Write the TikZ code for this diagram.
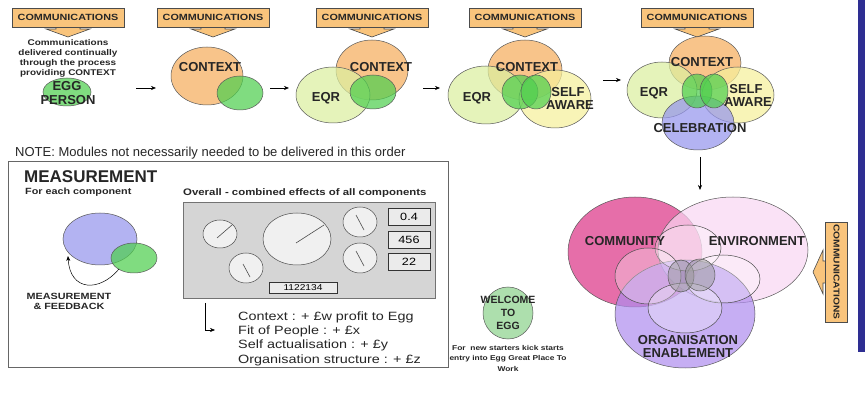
\documentclass[tikz,border=0pt]{standalone}
\usepackage{fontspec}
\setmainfont{Liberation Sans}
\newfontfamily\wide[FakeStretch=1.2]{Liberation Sans}
\usetikzlibrary{shapes.geometric,arrows.meta}
\definecolor{bannerc}{HTML}{F9C47C}
\definecolor{ctxc}{HTML}{F6AE5E}
\definecolor{greenc}{HTML}{4FCF4F}
\definecolor{eqrc}{HTML}{DCEFA0}
\definecolor{selfc}{HTML}{F6F09C}
\definecolor{celc}{HTML}{9696EE}
\definecolor{commc}{HTML}{E2559A}
\definecolor{envc}{HTML}{F9D6F3}
\definecolor{orgc}{HTML}{AE8CEE}
\definecolor{panelc}{HTML}{D5D5D5}
\definecolor{barc}{HTML}{2E2E92}
\definecolor{welc}{HTML}{8ED48E}
\begin{document}
\begin{tikzpicture}[x=1pt,y=-1pt,
  venn/.style={ellipse, draw=black!65, line width=0.5pt, inner sep=0pt, fill opacity=0.72, text opacity=1},
  inner/.style={ellipse, draw=black!70, line width=0.5pt, inner sep=0pt, fill=white, fill opacity=0.3},
  vlbl/.style={inner sep=0pt, text=black!85, font=\bfseries\fontsize{13}{14}\selectfont},
  banner/.style={rectangle, draw=black!70, fill=bannerc, line width=0.6pt, minimum width=112pt, minimum height=19pt, inner sep=0pt, font=\wide\bfseries\fontsize{9}{10}\selectfont, text=black!85},
  bannerhead/.style={draw=black!70, fill=bannerc, line width=0.6pt},
  flow/.style={-{Stealth[length=5pt,width=4pt]}, line width=0.6pt},
  dial/.style={ellipse, draw=black!70, fill=black!6, line width=0.5pt, inner sep=0pt},
  needle/.style={line width=0.6pt, black!70},
  valbox/.style={rectangle, draw=black!80, fill=black!8, line width=0.6pt, minimum width=42pt, minimum height=17pt, inner sep=0pt, font=\wide\fontsize{10.5}{11}\selectfont},
  small/.style={inner sep=0pt, font=\wide\bfseries\fontsize{9}{10}\selectfont, text=black!85},
]
\useasboundingbox (0,0) rectangle (865,395);
\fill[white] (0,0) rectangle (865,395);
\fill[barc] (858,0) rectangle (865,352);

% banners
\foreach \n/\cx in {1/68,2/213,3/372,4/525,5/697}{
  \draw[bannerhead] (\cx-12,27) -- (\cx-12,29) -- (\cx-22,29) -- (\cx,37) -- (\cx+22,29) -- (\cx+12,29) -- (\cx+12,27);
  \node[banner] (b\n) at (\cx,17.5) {COMMUNICATIONS};
}
\draw[bannerhead] (826,261) -- (823,261) -- (823,250) -- (813,272) -- (823,294) -- (823,283) -- (826,283);
\node[banner, rotate=-90, minimum width=100pt, minimum height=22pt, font=\wide\bfseries\fontsize{8.5}{10}\selectfont] (b6) at (836.5,272) {COMMUNICATIONS};

% stage 1
\node[small, align=center, font=\wide\bfseries\fontsize{8.3}{10}\selectfont] (cnote) at (68,58) {Communications\\delivered continually\\through the process\\providing CONTEXT};
\node[venn, fill=greenc, minimum width=48pt, minimum height=28pt] (egg) at (67,92) {};
\node[vlbl] (egg1) at (67,86) {EGG};
\node[vlbl] (egg2) at (68,100) {PERSON};

% arrows between stages
\coordinate (a1s) at (136,88); \coordinate (a1e) at (156,88);
\coordinate (a2s) at (270,88); \coordinate (a2e) at (289,88);
\coordinate (a3s) at (423,88); \coordinate (a3e) at (440,88);
\coordinate (a4s) at (603,80); \coordinate (a4e) at (621,80);
\draw[flow] (a1s) -- (a1e);
\draw[flow] (a2s) -- (a2e);
\draw[flow] (a3s) -- (a3e);
\draw[flow] (a4s) -- (a4e);

% stage 2
\node[venn, fill=ctxc, minimum width=72pt, minimum height=58pt] (ctx2) at (207,76) {};
\node[venn, fill=greenc, minimum width=46pt, minimum height=34pt] (gr2) at (240,93) {};
\node[vlbl] (l2) at (210,67) {CONTEXT};

% stage 3
\node[venn, fill=ctxc, minimum width=72pt, minimum height=60pt] (ctx3) at (372,70) {};
\node[venn, fill=eqrc, minimum width=74pt, minimum height=56pt] (eqr3) at (333,95) {};
\node[venn, fill=greenc, minimum width=46pt, minimum height=34pt] (gr3) at (373,92) {};
\node[vlbl] (l3a) at (381,67) {CONTEXT};
\node[vlbl] (l3b) at (326,98) {EQR};

% stage 4
\node[venn, fill=ctxc, minimum width=74pt, minimum height=60pt] (ctx4) at (525,70) {};
\node[venn, fill=eqrc, minimum width=76pt, minimum height=58pt] (eqr4) at (486,95) {};
\node[venn, fill=selfc, minimum width=72pt, minimum height=58pt] (self4) at (555,99) {};
\node[venn, fill=greenc, minimum width=36pt, minimum height=34pt] (gr4a) at (520,92) {};
\node[venn, fill=greenc, minimum width=30pt, minimum height=34pt] (gr4b) at (536,92) {};
\node[vlbl] (l4a) at (527,67) {CONTEXT};
\node[vlbl] (l4b) at (477,98) {EQR};
\node[vlbl] (l4c) at (568,92) {SELF};
\node[vlbl] (l4d) at (570,105) {AWARE};

% stage 5
\node[venn, fill=ctxc, minimum width=72pt, minimum height=54pt] (ctx5) at (705,63) {};
\node[venn, fill=eqrc, minimum width=70pt, minimum height=56pt] (eqr5) at (662,90) {};
\node[venn, fill=selfc, minimum width=72pt, minimum height=56pt] (self5) at (738,95) {};
\node[venn, fill=celc, minimum width=72pt, minimum height=54pt] (cel5) at (698,123) {};
\node[venn, fill=greenc, minimum width=30pt, minimum height=34pt] (gr5a) at (697,91) {};
\node[venn, fill=greenc, minimum width=28pt, minimum height=34pt] (gr5b) at (714,91) {};
\node[vlbl] (l5a) at (702,62) {CONTEXT};
\node[vlbl] (l5b) at (654,93) {EQR};
\node[vlbl] (l5c) at (746,89) {SELF};
\node[vlbl] (l5d) at (748,102) {AWARE};
\node[vlbl] (l5e) at (700,128) {CELEBRATION};

\coordinate (dns) at (700,157); \coordinate (dne) at (700,190);
\draw[flow] (dns) -- (dne);

% big venn
\node[venn, fill=commc, fill opacity=0.85, minimum width=134pt, minimum height=110pt] (comm) at (635,252) {};
\node[venn, fill=envc, fill opacity=0.7, minimum width=150pt, minimum height=106pt] (env) at (733,250) {};
\node[venn, fill=orgc, fill opacity=0.7, minimum width=140pt, minimum height=108pt] (org) at (685,314) {};
\node[inner, minimum width=66pt, minimum height=46pt] (it) at (688,248) {};
\node[inner, minimum width=66pt, minimum height=56pt] (il) at (648,276) {};
\node[inner, minimum width=74pt, minimum height=48pt] (ir) at (723,279) {};
\node[inner, minimum width=74pt, minimum height=50pt] (ib) at (685,308) {};
\node[venn, fill=black!40, fill opacity=0.5, minimum width=26pt, minimum height=32pt] (c1) at (681,276) {};
\node[venn, fill=black!40, fill opacity=0.5, minimum width=30pt, minimum height=32pt] (c2) at (700,275) {};
\node[vlbl] (lc) at (625,241) {COMMUNITY};
\node[vlbl] (le) at (757,241) {ENVIRONMENT};
\node[vlbl] (lo1) at (688,340) {ORGANISATION};
\node[vlbl] (lo2) at (688,353) {ENABLEMENT};

% note and measurement
\node[anchor=west, inner sep=0pt, text=black!85, font=\fontsize{13}{14}\selectfont] (note) at (15,153) {NOTE: Modules not necessarily needed to be delivered in this order};
\node[rectangle, draw=black!60, line width=0.8pt, minimum width=440pt, minimum height=206pt, inner sep=0pt] (meas) at (228,264) {};
\node[anchor=west, inner sep=0pt, text=black!85, font=\bfseries\fontsize{17}{18}\selectfont] (mtitle) at (24,177) {MEASUREMENT};
\node[small, anchor=west] (each) at (25,192) {For each component};
\node[venn, fill=celc, minimum width=74pt, minimum height=52pt] (mb) at (100,239) {};
\node[venn, fill=greenc, minimum width=46pt, minimum height=30pt] (mg) at (134,258) {};
\coordinate (fb1) at (119,269); \coordinate (fb2) at (68,256);
\draw[flow, line width=0.5pt] (fb1) .. controls (100,292) and (70,292) .. (fb2);
\node[small, align=center] (mf) at (69,301) {MEASUREMENT\\\& FEEDBACK};

\node[small, anchor=west, font=\wide\bfseries\fontsize{9.5}{10}\selectfont] (overall) at (183,193) {Overall - combined effects of all components};
\node[rectangle, draw=black!55, fill=panelc, line width=0.8pt, minimum width=252pt, minimum height=96pt, inner sep=0pt] (panel) at (309,250) {};
\node[dial, minimum width=34pt, minimum height=28pt] (d1) at (220,234) {};
\node[dial, minimum width=34pt, minimum height=30pt] (d2) at (246,268) {};
\node[dial, minimum width=68pt, minimum height=52pt] (d3) at (297,239) {};
\node[dial, minimum width=34pt, minimum height=30pt] (d4) at (360,222) {};
\node[dial, minimum width=34pt, minimum height=30pt] (d5) at (360,258) {};
\draw[needle] (217,238) -- (232,225);
\draw[needle] (243,264) -- (250,277);
\draw[needle] (296,243) -- (324,225);
\draw[needle] (356,215) -- (364,230);
\draw[needle] (356,251) -- (364,266);
\node[valbox] (v1) at (409,216.5) {0.4};
\node[valbox] (v2) at (409,239.5) {456};
\node[valbox] (v3) at (409,262) {22};
\node[valbox, minimum width=68pt, minimum height=11pt, font=\wide\fontsize{8.5}{9}\selectfont] (v4) at (303,287.5) {1122134};

\coordinate (la) at (205,303); \coordinate (lb) at (215,330);
\draw[flow, line width=0.5pt] (la) |- (lb);
\node[anchor=west, inner sep=0pt, align=left, text=black!85, font=\wide\fontsize{12}{14.3}\selectfont] (gains) at (238,338.5) {Context : + £w profit to Egg\\Fit of People : + £x\\Self actualisation : + £y\\Organisation structure : + £z};

% welcome
\node[venn, fill=welc, minimum width=50pt, minimum height=52pt] (wel) at (508,313) {};
\node[vlbl, font=\bfseries\fontsize{10.5}{12}\selectfont] (w1) at (508,300) {WELCOME};
\node[vlbl, font=\bfseries\fontsize{10.5}{12}\selectfont] (w2) at (508,313) {TO};
\node[vlbl, font=\bfseries\fontsize{10.5}{12}\selectfont] (w3) at (508,326) {EGG};
\node[small, align=center, font=\wide\bfseries\fontsize{7}{10.5}\selectfont] (wcap) at (508,358) {For\ \ new starters kick starts\\entry into Egg Great Place To\\Work};
\end{tikzpicture}
\end{document}
